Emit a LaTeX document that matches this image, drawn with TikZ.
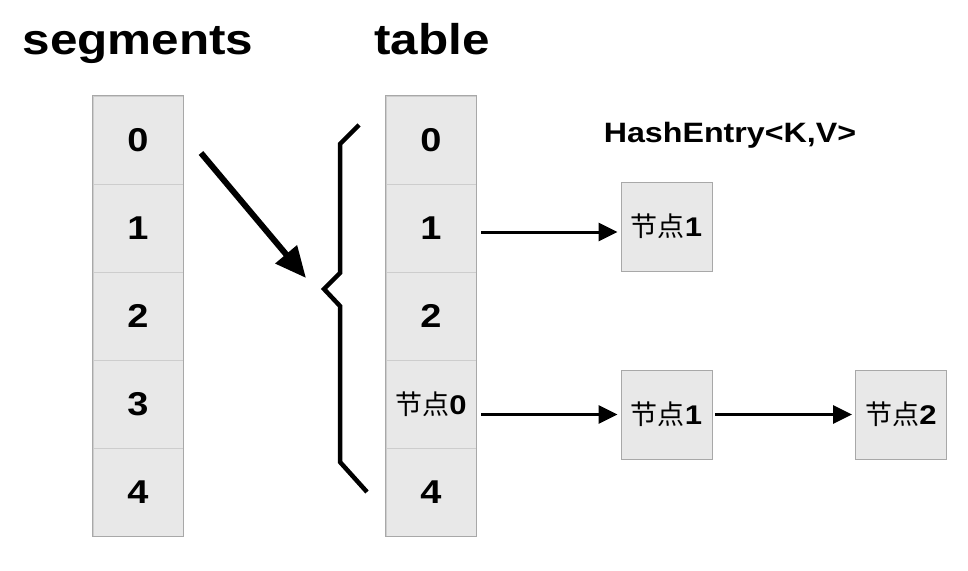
\documentclass[tikz,border=0pt]{standalone}
\usepackage{fontspec}
\setmainfont{Liberation Sans}[FakeStretch=1.15]
\newfontfamily\cjk{Noto Sans CJK SC}
\usetikzlibrary{arrows.meta}
\definecolor{cellfill}{HTML}{E8E8E8}
\definecolor{cellline}{HTML}{CDCDCD}
\definecolor{outline}{HTML}{A8A8A8}
\begin{document}
\begin{tikzpicture}[x=1pt,y=-1pt,
  cell/.style={rectangle, fill=cellfill, draw=cellline, line width=0.8pt,
    minimum width=90pt, minimum height=88pt, inner sep=0pt,
    font=\fontsize{33}{33}\selectfont\bfseries},
  entrybox/.style={rectangle, fill=cellfill, draw=outline, line width=0.8pt,
    minimum width=91pt, minimum height=89pt, inner sep=0pt},
  frame/.style={draw=outline, line width=0.9pt},
  title/.style={anchor=base, font=\fontsize{43}{43}\selectfont\bfseries, inner sep=0pt},
  harrow/.style={line width=3pt, -{Triangle[length=19pt,width=18pt]}},
  bigarrow/.style={line width=6pt, -{Triangle[length=31pt,width=27pt]}},
  bracepath/.style={line width=4.5pt, line join=miter},
]
\useasboundingbox (0,0) rectangle (968,570);
\fill[white] (0,0) rectangle (968,570);

% titles
\node[title] (tseg) at (138,54) {segments};
\node[title] (ttab) at (432,54) {table};
\node[anchor=base, inner sep=0pt, font=\fontsize{28}{28}\selectfont\bfseries] (thash) at (730,142) {HashEntry<K,V>};

% segments column
\foreach \i/\y in {0/140,1/228,2/316,3/404,4/492}{
  \node[cell] (s\i) at (138,\y) {\i};
}
\draw[frame] (s0.north west) rectangle (s4.south east);

% table column
\node[cell] (t0) at (431,140) {0};
\node[cell] (t1) at (431,228) {1};
\node[cell] (t2) at (431,316) {2};
\node[cell] (t3) at (431,404) {{\mdseries\fontsize{27}{27}\selectfont{\cjk 节点}\bfseries 0}};
\node[cell] (t4) at (431,492) {4};
\draw[frame] (t0.north west) rectangle (t4.south east);

% entry boxes
\node[entrybox] (e1) at (666.5,226.5) {\fontsize{27}{27}\selectfont{\cjk 节点}\textbf{1}};
\node[entrybox] (e2) at (666.5,414.5) {\fontsize{27}{27}\selectfont{\cjk 节点}\textbf{1}};
\node[entrybox] (e3) at (901,414.5) {\fontsize{27}{27}\selectfont{\cjk 节点}\textbf{2}};

% brace
\coordinate (b1) at (359,125);
\coordinate (b2) at (340,144);
\coordinate (b3) at (340,273);
\coordinate (b4) at (324,289);
\coordinate (b5) at (340,306);
\coordinate (b6) at (340,462);
\coordinate (b7) at (367,492);
\draw[bracepath] (b1) -- (b2) -- (b3) -- (b4) -- (b5) -- (b6) -- (b7);

% big arrow
\coordinate (as) at (201,153);
\coordinate (ae) at (306,278);
\draw[bigarrow] (as) -- (ae);

% horizontal arrows
\draw[harrow, shorten <=5pt, shorten >=3pt] ([yshift=-4pt]t1.east) -- ([yshift=-4pt]t1.east -| e1.west);
\draw[harrow, shorten <=5pt, shorten >=3pt] (t3.east |- e2.west) -- (e2.west);
\draw[harrow, shorten <=3pt, shorten >=3pt] (e2.east) -- (e3.west);
\end{tikzpicture}
\end{document}
